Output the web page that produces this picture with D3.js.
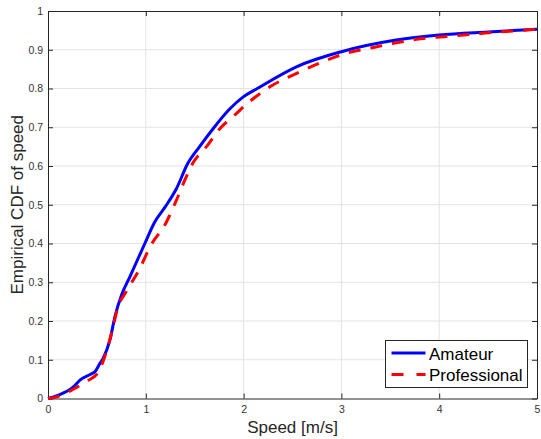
<!DOCTYPE html>
<html>
<head>
<meta charset="utf-8">
<script src="https://cdn.jsdelivr.net/npm/d3@7"></script>
<style>
  body { margin: 0; background: #fff; }
  text { font-family: "Liberation Sans", Arial, sans-serif; }
</style>
</head>
<body>
<div class="canvas"></div>
<script>
// speed [m/s] and empirical CDF values
const amateurSpeed = [0, 0.1, 0.26, 0.33, 0.43, 0.48, 0.53, 0.565, 0.633, 0.684, 0.752, 0.837, 0.99, 1.09, 1.2, 1.31, 1.43, 1.55, 1.7, 1.85, 2.0, 2.14, 2.54, 3.0, 3.56, 4.0, 4.5, 5.0];
const amateurCdf   = [0, 0.008, 0.03, 0.048, 0.062, 0.069, 0.09, 0.104, 0.151, 0.211, 0.267, 0.314, 0.40, 0.455, 0.495, 0.54, 0.607, 0.65, 0.70, 0.745, 0.779, 0.80, 0.856, 0.895, 0.925, 0.938, 0.946, 0.953];

const proSpeed = [0, 0.1, 0.258, 0.4, 0.51, 0.58, 0.65, 0.717, 0.8, 0.94, 1.04, 1.21, 1.30, 1.40, 1.48, 1.62, 1.77, 1.89, 2.06, 2.30, 2.51, 2.81, 3.05, 3.33, 3.56, 3.83, 4.11, 4.42, 5.0];
const proCdf   = [0, 0.005, 0.024, 0.045, 0.066, 0.108, 0.168, 0.237, 0.276, 0.336, 0.39, 0.455, 0.504, 0.564, 0.607, 0.65, 0.70, 0.727, 0.766, 0.809, 0.835, 0.869, 0.891, 0.906, 0.918, 0.929, 0.935, 0.942, 0.953];

const xTicks = [0, 1, 2, 3, 4, 5];
const yTicks = [0, 0.1, 0.2, 0.3, 0.4, 0.5, 0.6, 0.7, 0.8, 0.9, 1];
const seriesNames = ['Amateur', 'Professional'];

const width = 541, height = 439;
const margin = { top: 11, right: 4, bottom: 40.5, left: 48 };
const graphWidth = width - margin.left - margin.right;
const graphHeight = height - margin.top - margin.bottom;
const axisColor = '#262626';

const svg = d3.select('.canvas').append('svg')
    .attr('width', width)
    .attr('height', height);

const graph = svg.append('g')
    .attr('transform', `translate(${margin.left}, ${margin.top})`);

const x = d3.scaleLinear().domain([0, 5]).range([0, graphWidth]);
const y = d3.scaleLinear().domain([0, 1]).range([graphHeight, 0]);

// grid
graph.append('g').selectAll('line')
    .data(xTicks.slice(1, -1))
    .enter().append('line')
    .attr('x1', d => x(d)).attr('x2', d => x(d))
    .attr('y1', 0).attr('y2', graphHeight)
    .attr('stroke', '#e3e3e3');
graph.append('g').selectAll('line')
    .data(yTicks.slice(1, -1))
    .enter().append('line')
    .attr('x1', 0).attr('x2', graphWidth)
    .attr('y1', d => y(d)).attr('y2', d => y(d))
    .attr('stroke', '#e3e3e3');

// axes (ticks point inwards, box on)
const fmt = d => d === 0 || d === 1 ? String(d) : d3.format('.1f')(d);

const xAxis = graph.append('g')
    .attr('transform', `translate(0, ${graphHeight})`)
    .call(d3.axisBottom(x).tickValues(xTicks).tickSizeInner(-5).tickSizeOuter(0).tickPadding(7).tickFormat(d3.format('d')));
const yAxis = graph.append('g')
    .call(d3.axisLeft(y).tickValues(yTicks).tickSizeInner(-5).tickSizeOuter(0).tickPadding(5).tickFormat(fmt));
const topAxis = graph.append('g')
    .call(d3.axisTop(x).tickValues(xTicks).tickSizeInner(-5).tickSizeOuter(0).tickFormat(''));
const rightAxis = graph.append('g')
    .attr('transform', `translate(${graphWidth}, 0)`)
    .call(d3.axisRight(y).tickValues(yTicks).tickSizeInner(-5).tickSizeOuter(0).tickFormat(''));

[xAxis, yAxis, topAxis, rightAxis].forEach(a => {
    a.selectAll('path, line').attr('stroke', axisColor);
    a.selectAll('text').attr('fill', '#333').attr('font-size', '10.5px')
        .attr('font-family', '"Liberation Sans", Arial, sans-serif');
});

// lines
const line = d3.line()
    .x(d => x(d[0]))
    .y(d => y(d[1]))
    .curve(d3.curveMonotoneX);

graph.append('path')
    .datum(d3.zip(amateurSpeed, amateurCdf))
    .attr('fill', 'none')
    .attr('stroke', '#0000ff')
    .attr('stroke-width', 3)
    .attr('stroke-linejoin', 'round')
    .attr('d', line);

graph.append('path')
    .datum(d3.zip(proSpeed, proCdf))
    .attr('fill', 'none')
    .attr('stroke', '#ff0000')
    .attr('stroke-width', 3)
    .attr('stroke-dasharray', '12,10')
    .attr('d', line);

// axis labels
svg.append('text')
    .attr('x', margin.left + graphWidth / 2)
    .attr('y', 432.5)
    .attr('text-anchor', 'middle')
    .attr('font-size', '17px')
    .attr('fill', axisColor)
    .text('Speed [m/s]');

svg.append('text')
    .attr('transform', `translate(22.5, ${margin.top + graphHeight / 2}) rotate(-90)`)
    .attr('text-anchor', 'middle')
    .attr('font-size', '17px')
    .attr('fill', axisColor)
    .text('Empirical CDF of speed');

// legend
const legend = svg.append('g').attr('transform', 'translate(385.5, 340.5)');
legend.append('rect')
    .attr('width', 142).attr('height', 47)
    .attr('fill', '#fff')
    .attr('stroke', axisColor);

const legendColors = ['#0000ff', '#ff0000'];
seriesNames.forEach((name, i) => {
    const ly = 12.5 + i * 21.5;
    legend.append('line')
        .attr('x1', 6).attr('x2', 40)
        .attr('y1', ly).attr('y2', ly)
        .attr('stroke', legendColors[i])
        .attr('stroke-width', 3)
        .attr('stroke-dasharray', i === 1 ? '12,13' : null);
    legend.append('text')
        .attr('x', 43.5)
        .attr('y', ly + 6.5)
        .attr('font-size', '17px')
        .attr('fill', '#000')
        .text(name);
});
</script>
</body>
</html>
